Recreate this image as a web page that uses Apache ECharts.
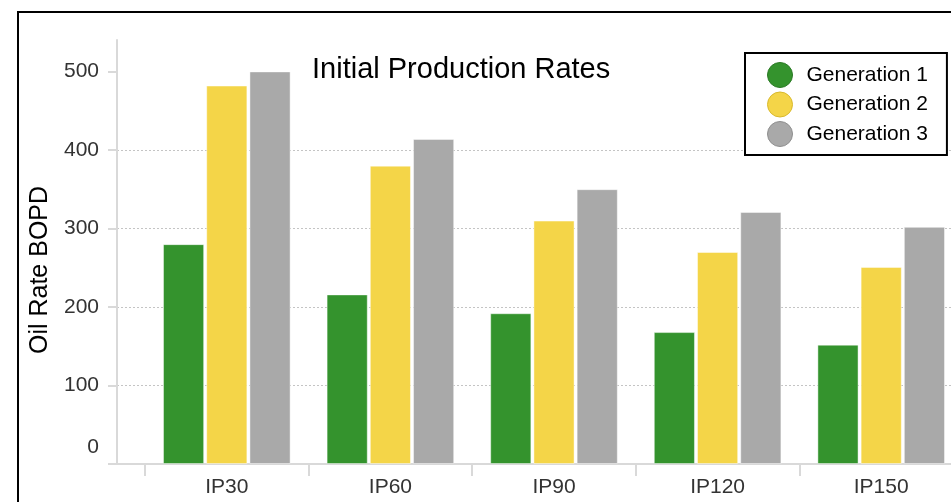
<!DOCTYPE html>
<html>
<head>
<meta charset="utf-8">
<script src="https://cdn.jsdelivr.net/npm/echarts@6/dist/echarts.min.js"></script>
<style>
  html, body { margin: 0; padding: 0; background: #fff; }
  #chart { width: 951px; height: 502px; }
</style>
</head>
<body>
<div id="chart"></div>
<script>
// Initial production rates (oil, BOPD) by well generation
const categories = ['IP30', 'IP60', 'IP90', 'IP120', 'IP150'];
const gen1 = [280, 216, 192, 168, 152];
const gen2 = [482, 380, 310, 270, 251];
const gen3 = [500, 414, 350, 321, 302];
const yTicks = [0, 100, 200, 300, 400, 500];
const seriesNames = ['Generation 1', 'Generation 2', 'Generation 3'];

const FONT = '"Liberation Sans", Arial, sans-serif';
const AXIS_GRAY = '#d9d9d9';
const colors = ['#34932d', '#f4d548', '#a9a9a9'];
const legendBorders = ['#2a7a24', '#d9b92c', '#8f8f8f'];

const chart = echarts.init(document.getElementById('chart'), null, { renderer: 'canvas' });

const barSeries = [gen1, gen2, gen3].map((values, i) => ({
  name: seriesNames[i],
  type: 'bar',
  xAxisIndex: 1,
  yAxisIndex: 1,
  data: values,
  barCategoryGap: '22%',
  barGap: '5%',
  itemStyle: { color: colors[i], borderColor: 'rgba(255,255,255,0.45)', borderWidth: 1 }
}));

chart.setOption({
  backgroundColor: '#fff',
  animation: false,
  title: {
    text: 'Initial Production Rates',
    left: 312,
    top: 55,
    padding: 0,
    textStyle: { fontFamily: FONT, fontSize: 29, fontWeight: 'normal', color: '#000' }
  },
  legend: {
    orient: 'vertical',
    left: 745,
    top: 53,
    padding: [9, 19, 8, 22],
    backgroundColor: '#fff',
    borderColor: '#000',
    borderWidth: 2,
    borderRadius: 0,
    icon: 'circle',
    itemWidth: 25,
    itemHeight: 25,
    itemGap: 3.5,
    data: seriesNames.map((n, i) => ({
      name: n,
      itemStyle: { color: colors[i], borderColor: legendBorders[i], borderWidth: 1 }
    })),
    textStyle: { fontFamily: FONT, fontSize: 21, color: '#000', padding: [0, 0, 0, 9] },
    z: 10
  },
  grid: [
    // frame: value axis, dotted grid lines and baseline
    { left: 117, right: 0, top: 40, bottom: 38, outerBoundsMode: 'none' },
    // bars: category bands
    { left: 145, width: 818, top: 40, bottom: 38, outerBoundsMode: 'none' }
  ],
  xAxis: [
    {
      type: 'value', gridIndex: 0, min: 0, max: 1,
      axisLine: { show: true, lineStyle: { color: AXIS_GRAY, width: 2 } },
      axisTick: { show: false }, axisLabel: { show: false }, splitLine: { show: false }
    },
    {
      type: 'category', gridIndex: 1, data: categories,
      axisLine: { show: false },
      axisTick: { show: true, length: 12, lineStyle: { color: AXIS_GRAY, width: 2 } },
      axisLabel: { margin: 13, fontFamily: FONT, fontSize: 21, color: '#333' }
    }
  ],
  yAxis: [
    {
      type: 'value', gridIndex: 0, min: 0, max: 540, interval: 100,
      name: 'Oil Rate BOPD',
      nameLocation: 'middle',
      nameGap: 63,
      nameRotate: 90,
      nameTextStyle: { fontFamily: FONT, fontSize: 25, color: '#000', padding: [0, 36, 0, 0] },
      axisLine: { show: true, lineStyle: { color: AXIS_GRAY, width: 2 } },
      axisTick: { show: true, length: 9, customValues: yTicks, lineStyle: { color: AXIS_GRAY, width: 2 } },
      axisLabel: {
        margin: 18,
        customValues: yTicks,
        fontFamily: FONT, fontSize: 21, color: '#333',
        formatter: v => (v === 0 ? '{z|0}' : String(v)),
        rich: { z: { fontFamily: FONT, fontSize: 21, color: '#333', padding: [0, 0, 34, 0] } }
      },
      splitLine: { show: true, showMaxLine: false, lineStyle: { color: '#c4c4c4', type: [2, 2], width: 1 } }
    },
    { type: 'value', gridIndex: 1, min: 0, max: 540, show: false, splitLine: { show: false } }
  ],
  graphic: [
    {
      type: 'rect',
      shape: { x: 18, y: 12, width: 1200, height: 1000 },
      style: { fill: null, stroke: '#000', lineWidth: 2 },
      z: 100
    }
  ],
  series: barSeries
});
</script>
</body>
</html>
